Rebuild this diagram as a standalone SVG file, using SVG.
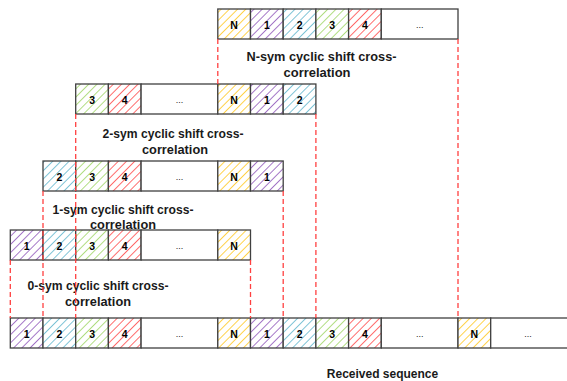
<svg xmlns="http://www.w3.org/2000/svg" width="567" height="381" viewBox="0 0 567 381">
<style>
.cell{stroke:#404040;stroke-width:1.3}
.blank{fill:#ffffff;stroke:#404040;stroke-width:1.3}
.sym{font-family:"Liberation Sans",Arial,sans-serif;font-weight:bold;font-size:10.5px;fill:#000;text-anchor:middle}
.dots{font-family:"Liberation Sans",Arial,sans-serif;font-size:9px;fill:#222;text-anchor:middle}
.lbl{font-family:"Liberation Sans",Arial,sans-serif;font-weight:bold;font-size:13px;fill:#1a1a1a;text-anchor:middle}
.rx{font-family:"Liberation Sans",Arial,sans-serif;font-weight:bold;font-size:12px;fill:#1a1a1a;text-anchor:middle}
.dash{stroke:#ff4040;stroke-width:1.3;stroke-dasharray:5 3;fill:none}
</style>
<defs>
<pattern id="hN" patternUnits="userSpaceOnUse" width="5.8" height="5.8" patternTransform="rotate(45)"><rect width="5.8" height="5.8" fill="#fff"/><line x1="0" y1="0" x2="0" y2="5.8" stroke="#FFC000" stroke-width="1.4"/></pattern>
<pattern id="h1" patternUnits="userSpaceOnUse" width="5.8" height="5.8" patternTransform="rotate(45)"><rect width="5.8" height="5.8" fill="#fff"/><line x1="0" y1="0" x2="0" y2="5.8" stroke="#8040B0" stroke-width="1.4"/></pattern>
<pattern id="h2" patternUnits="userSpaceOnUse" width="5.8" height="5.8" patternTransform="rotate(45)"><rect width="5.8" height="5.8" fill="#fff"/><line x1="0" y1="0" x2="0" y2="5.8" stroke="#4BACC6" stroke-width="1.4"/></pattern>
<pattern id="h3" patternUnits="userSpaceOnUse" width="5.8" height="5.8" patternTransform="rotate(45)"><rect width="5.8" height="5.8" fill="#fff"/><line x1="0" y1="0" x2="0" y2="5.8" stroke="#92D050" stroke-width="1.4"/></pattern>
<pattern id="h4" patternUnits="userSpaceOnUse" width="5.8" height="5.8" patternTransform="rotate(45)"><rect width="5.8" height="5.8" fill="#fff"/><line x1="0" y1="0" x2="0" y2="5.8" stroke="#FF3030" stroke-width="1.4"/></pattern>
</defs>

<g id="row-N">
<rect class="cell" x="217.8" y="9" width="32.7" height="30" fill="url(#hN)"/><text class="sym" x="234.15" y="28.5">N</text>
<rect class="cell" x="250.5" y="9" width="32.7" height="30" fill="url(#h1)"/><text class="sym" x="266.85" y="28.5">1</text>
<rect class="cell" x="283.2" y="9" width="32.7" height="30" fill="url(#h2)"/><text class="sym" x="299.55" y="28.5">2</text>
<rect class="cell" x="315.9" y="9" width="32.7" height="30" fill="url(#h3)"/><text class="sym" x="332.25" y="28.5">3</text>
<rect class="cell" x="348.6" y="9" width="32.7" height="30" fill="url(#h4)"/><text class="sym" x="364.95" y="28.5">4</text>
<rect class="blank" x="381.3" y="9" width="76.7" height="30"/><text class="dots" x="419.65" y="27.5">...</text>
</g>
<g id="label-N">
<text class="lbl" x="321.5" y="61" textLength="150" lengthAdjust="spacingAndGlyphs">N-sym cyclic shift cross-</text>
<text class="lbl" x="317" y="77" textLength="67" lengthAdjust="spacingAndGlyphs">correlation</text>
</g>

<g id="row-2">
<rect class="cell" x="75.7" y="84" width="32.7" height="30" fill="url(#h3)"/><text class="sym" x="92.05" y="103.5">3</text>
<rect class="cell" x="108.4" y="84" width="32.7" height="30" fill="url(#h4)"/><text class="sym" x="124.75" y="103.5">4</text>
<rect class="blank" x="141.1" y="84" width="76.7" height="30"/><text class="dots" x="179.45" y="102.5">...</text>
<rect class="cell" x="217.8" y="84" width="32.7" height="30" fill="url(#hN)"/><text class="sym" x="234.15" y="103.5">N</text>
<rect class="cell" x="250.5" y="84" width="32.7" height="30" fill="url(#h1)"/><text class="sym" x="266.85" y="103.5">1</text>
<rect class="cell" x="283.2" y="84" width="32.7" height="30" fill="url(#h2)"/><text class="sym" x="299.55" y="103.5">2</text>
</g>
<g id="label-2">
<text class="lbl" x="173" y="138" textLength="141" lengthAdjust="spacingAndGlyphs">2-sym cyclic shift cross-</text>
<text class="lbl" x="175" y="154" textLength="66" lengthAdjust="spacingAndGlyphs">correlation</text>
</g>

<g id="row-1">
<rect class="cell" x="43" y="161" width="32.7" height="30" fill="url(#h2)"/><text class="sym" x="59.35" y="180.5">2</text>
<rect class="cell" x="75.7" y="161" width="32.7" height="30" fill="url(#h3)"/><text class="sym" x="92.05" y="180.5">3</text>
<rect class="cell" x="108.4" y="161" width="32.7" height="30" fill="url(#h4)"/><text class="sym" x="124.75" y="180.5">4</text>
<rect class="blank" x="141.1" y="161" width="76.7" height="30"/><text class="dots" x="179.45" y="179.5">...</text>
<rect class="cell" x="217.8" y="161" width="32.7" height="30" fill="url(#hN)"/><text class="sym" x="234.15" y="180.5">N</text>
<rect class="cell" x="250.5" y="161" width="32.7" height="30" fill="url(#h1)"/><text class="sym" x="266.85" y="180.5">1</text>
</g>
<g id="label-1">
<text class="lbl" x="123" y="214" textLength="141" lengthAdjust="spacingAndGlyphs">1-sym cyclic shift cross-</text>
<text class="lbl" x="123" y="229" textLength="66" lengthAdjust="spacingAndGlyphs">correlation</text>
</g>

<g id="row-0">
<rect class="cell" x="10.3" y="230" width="32.7" height="30" fill="url(#h1)"/><text class="sym" x="26.65" y="249.5">1</text>
<rect class="cell" x="43" y="230" width="32.7" height="30" fill="url(#h2)"/><text class="sym" x="59.35" y="249.5">2</text>
<rect class="cell" x="75.7" y="230" width="32.7" height="30" fill="url(#h3)"/><text class="sym" x="92.05" y="249.5">3</text>
<rect class="cell" x="108.4" y="230" width="32.7" height="30" fill="url(#h4)"/><text class="sym" x="124.75" y="249.5">4</text>
<rect class="blank" x="141.1" y="230" width="76.7" height="30"/><text class="dots" x="179.45" y="248.5">...</text>
<rect class="cell" x="217.8" y="230" width="32.7" height="30" fill="url(#hN)"/><text class="sym" x="234.15" y="249.5">N</text>
</g>
<g id="label-0">
<text class="lbl" x="98" y="290" textLength="141" lengthAdjust="spacingAndGlyphs">0-sym cyclic shift cross-</text>
<text class="lbl" x="98" y="306" textLength="66" lengthAdjust="spacingAndGlyphs">correlation</text>
</g>

<g id="received">
<rect class="cell" x="10.3" y="318" width="32.7" height="30" fill="url(#h1)"/><text class="sym" x="26.65" y="337.5">1</text>
<rect class="cell" x="43" y="318" width="32.7" height="30" fill="url(#h2)"/><text class="sym" x="59.35" y="337.5">2</text>
<rect class="cell" x="75.7" y="318" width="32.7" height="30" fill="url(#h3)"/><text class="sym" x="92.05" y="337.5">3</text>
<rect class="cell" x="108.4" y="318" width="32.7" height="30" fill="url(#h4)"/><text class="sym" x="124.75" y="337.5">4</text>
<rect class="blank" x="141.1" y="318" width="76.7" height="30"/><text class="dots" x="179.45" y="336.5">...</text>
<rect class="cell" x="217.8" y="318" width="32.7" height="30" fill="url(#hN)"/><text class="sym" x="234.15" y="337.5">N</text>
<rect class="cell" x="250.5" y="318" width="32.7" height="30" fill="url(#h1)"/><text class="sym" x="266.85" y="337.5">1</text>
<rect class="cell" x="283.2" y="318" width="32.7" height="30" fill="url(#h2)"/><text class="sym" x="299.55" y="337.5">2</text>
<rect class="cell" x="315.9" y="318" width="32.7" height="30" fill="url(#h3)"/><text class="sym" x="332.25" y="337.5">3</text>
<rect class="cell" x="348.6" y="318" width="32.7" height="30" fill="url(#h4)"/><text class="sym" x="364.95" y="337.5">4</text>
<rect class="blank" x="381.3" y="318" width="76.7" height="30"/><text class="dots" x="419.65" y="336.5">...</text>
<rect class="cell" x="458" y="318" width="32.7" height="30" fill="url(#hN)"/><text class="sym" x="474.35" y="337.5">N</text>
<rect class="blank" x="490.7" y="318" width="80" height="30"/><text class="dots" x="528" y="336.5">...</text>
</g>
<g id="label-received">
<text class="rx" x="382.5" y="378">Received sequence</text>
</g>

<g id="connectors">
<line class="dash" x1="217.8" y1="39" x2="217.8" y2="84"/>
<line class="dash" x1="458" y1="39" x2="458" y2="318"/>
<line class="dash" x1="75.7" y1="114" x2="75.7" y2="318"/>
<line class="dash" x1="315.9" y1="114" x2="315.9" y2="318"/>
<line class="dash" x1="43" y1="191" x2="43" y2="318"/>
<line class="dash" x1="283.2" y1="191" x2="283.2" y2="318"/>
<line class="dash" x1="10.3" y1="260" x2="10.3" y2="318"/>
<line class="dash" x1="250.5" y1="260" x2="250.5" y2="318"/>
</g>
</svg>
